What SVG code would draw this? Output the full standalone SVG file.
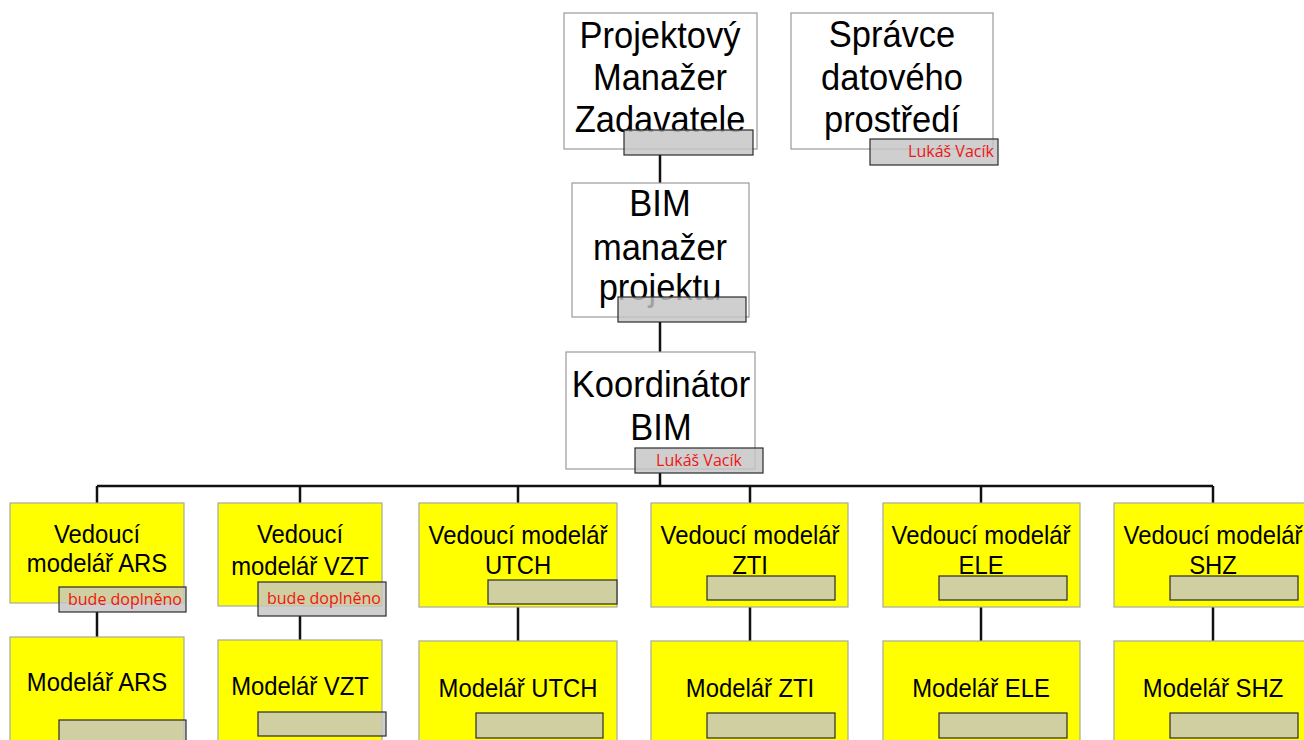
<svg xmlns="http://www.w3.org/2000/svg" width="1304" height="740" viewBox="0 0 1304 740">
<style>
.wb{fill:#ffffff;stroke:#9a9a9a;stroke-width:1.2}
.yb{fill:#ffff00;stroke:#a8a8a0;stroke-width:1.2}
.lb{fill:#c4c4c4;fill-opacity:0.82;stroke:#2a2a2a;stroke-width:1.2}
.t1{font-family:"Liberation Sans",Arial,sans-serif;font-size:37.5px;fill:#000;text-anchor:middle}
.t2{font-family:"Liberation Sans",Arial,sans-serif;font-size:26.5px;fill:#000;text-anchor:middle}
.rt{font-family:"Open Sans","Noto Sans",sans-serif;font-size:16px;fill:#f01414;text-anchor:middle}
.cn{fill:none;stroke:#111;stroke-width:2.5}
</style>
<rect x="0" y="0" width="1304" height="740" fill="#ffffff"/>
<g id="connectors">
<path class="cn" d="M660 155V183M660 322V352M660 473V487M97 486H1213M97 486V503M300 486V503M518 486V503M750 486V503M981 486V503M1213 486V503"/>
<path class="cn" d="M97 612V637M300 616V640M518 607V641M750 607V641M981 607V641M1213 607V641"/>
</g>
<g id="pm">
<rect class="wb" x="564" y="13" width="193" height="136"/>
<g transform="translate(660,0) scale(0.92,1)">
<text class="t1" x="0" y="48">Projektový</text>
<text class="t1" x="0" y="90">Manažer</text>
<text class="t1" x="0" y="132">Zadavatele</text>
</g>
<rect class="lb" x="624" y="130" width="129" height="25"/>
</g>
<g id="spravce">
<rect class="wb" x="791" y="13" width="202" height="136"/>
<g transform="translate(892,0) scale(0.92,1)">
<text class="t1" x="0" y="47">Správce</text>
<text class="t1" x="0" y="90">datového</text>
<text class="t1" x="0" y="132">prostředí</text>
</g>
<rect class="lb" x="870" y="139" width="128" height="26"/>
<text class="rt" x="951" y="157">Lukáš Vacík</text>
</g>
<g id="bim">
<rect class="wb" x="572" y="183" width="177" height="134"/>
<g transform="translate(660,0) scale(0.92,1)">
<text class="t1" x="0" y="216">BIM</text>
<text class="t1" x="0" y="260">manažer</text>
<text class="t1" x="0" y="300">projektu</text>
</g>
<rect class="lb" x="618" y="297" width="128" height="25"/>
</g>
<g id="koord">
<rect class="wb" x="566" y="352" width="189" height="117"/>
<g transform="translate(661,0) scale(0.92,1)">
<text class="t1" x="0" y="397">Koordinátor</text>
<text class="t1" x="0" y="440">BIM</text>
</g>
<rect class="lb" x="635" y="448" width="128" height="25"/>
<text class="rt" x="699" y="466">Lukáš Vacík</text>
</g>
<g id="v-ars">
<rect class="yb" x="10" y="503" width="174" height="100"/>
<g transform="translate(97,0) scale(0.9,1)">
<text class="t2" x="0" y="543">Vedoucí</text>
<text class="t2" x="0" y="572">modelář ARS</text>
</g>
<rect class="lb" x="59" y="587" width="127" height="25"/>
<text class="rt" x="125" y="605">bude doplněno</text>
</g>
<g id="v-vzt">
<rect class="yb" x="218" y="503" width="164" height="103"/>
<g transform="translate(300,0) scale(0.9,1)">
<text class="t2" x="0" y="543">Vedoucí</text>
<text class="t2" x="0" y="575">modelář VZT</text>
</g>
<rect class="lb" x="258" y="582" width="128" height="34"/>
<text class="rt" x="324" y="604">bude doplněno</text>
</g>
<g id="v-utch">
<rect class="yb" x="419" y="503" width="198" height="104"/>
<g transform="translate(518,0) scale(0.9,1)">
<text class="t2" x="0" y="544">Vedoucí modelář</text>
<text class="t2" x="0" y="574">UTCH</text>
</g>
<rect class="lb" x="488" y="580" width="129" height="24"/>
</g>
<g id="v-zti">
<rect class="yb" x="651" y="503" width="197" height="104"/>
<g transform="translate(750,0) scale(0.9,1)">
<text class="t2" x="0" y="544">Vedoucí modelář</text>
<text class="t2" x="0" y="574">ZTI</text>
</g>
<rect class="lb" x="707" y="576" width="128" height="24"/>
</g>
<g id="v-ele">
<rect class="yb" x="883" y="503" width="197" height="104"/>
<g transform="translate(981,0) scale(0.9,1)">
<text class="t2" x="0" y="544">Vedoucí modelář</text>
<text class="t2" x="0" y="574">ELE</text>
</g>
<rect class="lb" x="939" y="576" width="128" height="24"/>
</g>
<g id="v-shz">
<rect class="yb" x="1114" y="503" width="197" height="104"/>
<g transform="translate(1213,0) scale(0.9,1)">
<text class="t2" x="0" y="544">Vedoucí modelář</text>
<text class="t2" x="0" y="574">SHZ</text>
</g>
<rect class="lb" x="1170" y="576" width="128" height="24"/>
</g>
<g id="m-ars">
<rect class="yb" x="10" y="637" width="174" height="130"/>
<g transform="translate(97,0) scale(0.9,1)">
<text class="t2" x="0" y="691">Modelář ARS</text>
</g>
<rect class="lb" x="59" y="720" width="127" height="30"/>
</g>
<g id="m-vzt">
<rect class="yb" x="218" y="640" width="164" height="130"/>
<g transform="translate(300,0) scale(0.9,1)">
<text class="t2" x="0" y="695">Modelář VZT</text>
</g>
<rect class="lb" x="258" y="712" width="128" height="24"/>
</g>
<g id="m-utch">
<rect class="yb" x="419" y="641" width="198" height="130"/>
<g transform="translate(518,0) scale(0.9,1)">
<text class="t2" x="0" y="697">Modelář UTCH</text>
</g>
<rect class="lb" x="476" y="713" width="127" height="25"/>
</g>
<g id="m-zti">
<rect class="yb" x="651" y="641" width="197" height="130"/>
<g transform="translate(750,0) scale(0.9,1)">
<text class="t2" x="0" y="697">Modelář ZTI</text>
</g>
<rect class="lb" x="707" y="713" width="128" height="25"/>
</g>
<g id="m-ele">
<rect class="yb" x="883" y="641" width="197" height="130"/>
<g transform="translate(981,0) scale(0.9,1)">
<text class="t2" x="0" y="697">Modelář ELE</text>
</g>
<rect class="lb" x="939" y="713" width="128" height="25"/>
</g>
<g id="m-shz">
<rect class="yb" x="1114" y="641" width="197" height="130"/>
<g transform="translate(1213,0) scale(0.9,1)">
<text class="t2" x="0" y="697">Modelář SHZ</text>
</g>
<rect class="lb" x="1170" y="713" width="128" height="25"/>
</g>
</svg>
